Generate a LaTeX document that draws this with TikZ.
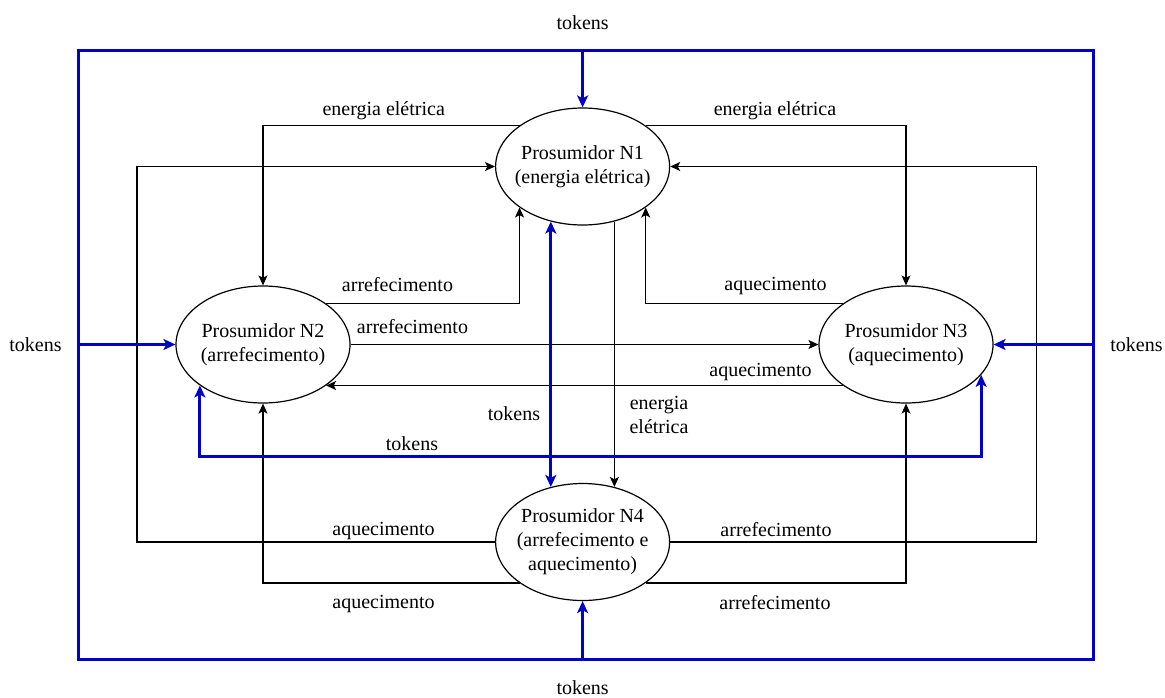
\documentclass[tikz,border=0pt]{standalone}
\usepackage{fontspec}
\setmainfont{Liberation Serif}
\usetikzlibrary{shapes.geometric,arrows.meta}
\definecolor{tokblue}{RGB}{0,0,200}
% centred multi-line text that does not widen the ellipse
\newcommand\prosumertext[1]{\makebox[0pt]{\begin{tabular}{@{}c@{}}#1\end{tabular}}}
\begin{document}
\begin{tikzpicture}[x=0.5pt,y=-0.5pt,
  font=\fontsize{10}{12}\selectfont,
  prosumer/.style={ellipse,draw,fill=white,line width=0.6pt,
    minimum width=87pt,minimum height=58.5pt,inner sep=0pt},
  flow/.style={draw,line width=0.6pt,
    -{Stealth[length=5pt,width=4.5pt,inset=1.2pt]}},
  tok/.style={draw=tokblue,line width=1.5pt,
    -{Stealth[length=6pt,width=5.5pt,inset=1.5pt]}},
  tokboth/.style={draw=tokblue,line width=1.5pt,
    {Stealth[length=6pt,width=5.5pt,inset=1.5pt]}-{Stealth[length=6pt,width=5.5pt,inset=1.5pt]}},
  lbl/.style={inner sep=0pt,anchor=base}]
\useasboundingbox (0,0) rectangle (1165,697);

% outer token frame
\node[draw=tokblue,line width=1.5pt,minimum width=507.5pt,minimum height=304.6pt,
  inner sep=0pt] (frame) at (586,355.3) {};

% prosumers
\node[prosumer] (n1) at (582.6,166.5) {\prosumertext{Prosumidor N1\\(energia elétrica)}};
\node[prosumer] (n2) at (263,344.5) {\prosumertext{Prosumidor N2\\(arrefecimento)}};
\node[prosumer] (n3) at (906,344.5) {\prosumertext{Prosumidor N3\\(aquecimento)}};
\node[prosumer] (n4) at (582.6,542) {\prosumertext{Prosumidor N4\\(arrefecimento e\\aquecimento)}};

% routing columns and rows
\coordinate (lcol) at (137,0);
\coordinate (rcol) at (1036.5,0);
\coordinate (tokrow) at (0,456.7);

% energy and heat flows
\draw[flow] (n1.147) -| (n2.north);
\draw[flow] (n1.33) -| (n3.north);
\draw[flow] (n4.west) -| (lcol |- n1.west) -- (n1.west);
\draw[flow] (n4.east) -| (rcol |- n1.east) -- (n1.east);
\draw[flow] (n2.33) -| (n1.213);
\draw[flow] (n3.147) -| (n1.327);
\draw[flow] (n2.east) -- (n3.west);
\draw[flow] (n3.213) -- (n2.327);
\draw[flow] (n1.300) -- (n4.60);
\draw[flow] (n4.213) -| (n2.south);
\draw[flow] (n4.327) -| (n3.south);

% token flows
\draw[tokboth] (n1.240) -- (n4.120);
\draw[tokboth] (n2.213) -- (n2.213 |- tokrow) -| (n3.338);
\draw[tok] (frame.north -| n1.north) -- (n1.north);
\draw[tok] (frame.south -| n4.south) -- (n4.south);
\draw[tok] (frame.west |- n2.west) -- (n2.west);
\draw[tok] (frame.east |- n3.east) -- (n3.east);

% labels
\node[lbl] (ltop) at (582.6,29) {tokens};
\node[lbl] (lbot) at (582.6,694) {tokens};
\node[lbl] (lleft) at (35.5,351) {tokens};
\node[lbl] (lright) at (1136.5,351) {tokens};
\node[lbl] (e12) at (383.7,115) {energia elétrica};
\node[lbl] (e13) at (775,115) {energia elétrica};
\node[lbl] (c21) at (397.5,291) {arrefecimento};
\node[lbl] (h31) at (775.5,290) {aquecimento};
\node[lbl] (c23) at (412.5,333) {arrefecimento};
\node[lbl] (h32) at (760.5,376) {aquecimento};
\node[lbl] (t14) at (514,420) {tokens};
\node[inner sep=0pt,align=center] (e14) at (659,415) {energia\\elétrica};
\node[lbl] (t23) at (412,450) {tokens};
\node[lbl] (h41) at (383.5,535) {aquecimento};
\node[lbl] (c41) at (776,536) {arrefecimento};
\node[lbl] (h42) at (383.5,608) {aquecimento};
\node[lbl] (c43) at (775,609) {arrefecimento};
\end{tikzpicture}
\end{document}
